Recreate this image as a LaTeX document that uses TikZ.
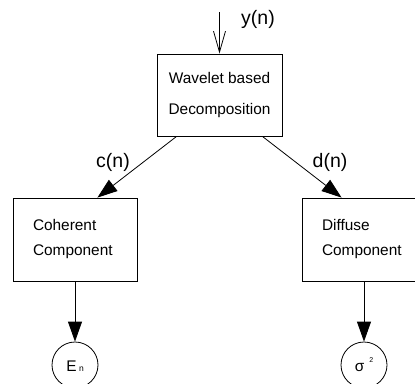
\documentclass[tikz,border=0pt]{standalone}
\usepackage{fontspec}
\setmainfont{Liberation Sans}
\usetikzlibrary{trees,arrows.meta}

\begin{document}
\begin{tikzpicture}[x=1pt,y=1pt,
    level 1/.style={sibling distance=289pt, level distance=144.5pt},
    level 2/.style={level distance=125.5pt},
    edge from parent/.style={draw, line width=0.8pt,
      -{Triangle[length=20pt,width=14pt]}},
    straight edge/.style={edge from parent path={(\tikzparentnode)
      -- (\tikzchildnode)}},
    decbox/.style={shape=rectangle, draw, line width=0.8pt, align=center,
      minimum width=125pt, minimum height=82pt,
      font=\fontsize{15.4pt}{31pt}\selectfont},
    compbox/.style={shape=rectangle, draw, line width=0.8pt, align=left,
      text width=84pt, inner xsep=20pt, minimum height=83pt,
      font=\fontsize{15.4pt}{25pt}\selectfont},
    endnode/.style={shape=circle, draw, line width=0.8pt,
      minimum size=46pt, inner sep=0pt, text height=12pt, text depth=0pt,
      font=\fontsize{15.4pt}{18pt}\selectfont},
    siglab/.style={font=\fontsize{19.5pt}{22pt}\selectfont, inner sep=0pt}]
    \useasboundingbox (0,0) rectangle (415,-383);
    \node[decbox] (dec) at (219.5,-95) {Wavelet based\\Decomposition}
        child[edge from parent path={([xshift=20pt]\tikzparentnode.south west)
              -- ([xshift=-40pt]\tikzchildnode.north east)}]
            {node[compbox] (coh) {Coherent\\Component}
                child[straight edge]{node[endnode] (en)
                    {E\hspace{2.5pt}{\fontsize{8.5pt}{9pt}\selectfont n}}}}
        child[edge from parent path={([xshift=-20pt]\tikzparentnode.south east)
              -- ([xshift=40pt]\tikzchildnode.north west)}]
            {node[compbox] (dif) {Diffuse\\Component}
                child[straight edge]{node[endnode] (sig)
                    {σ\hspace{5pt}\raisebox{9pt}[0pt][0pt]{\fontsize{7pt}{8pt}\selectfont 2}}}};
    % input signal
    \coordinate (yin) at (219.5,-12);
    \draw[line width=0.8pt, -{Straight Barb[length=21pt,width=12pt]}] (yin) -- (dec);
    \node[siglab] (ylab) at (258,-19) {y(n)};
    \node[siglab] (clab) at (113,-162.5) {c(n)};
    \node[siglab] (dlab) at (330,-162) {d(n)};
\end{tikzpicture}
\end{document}
